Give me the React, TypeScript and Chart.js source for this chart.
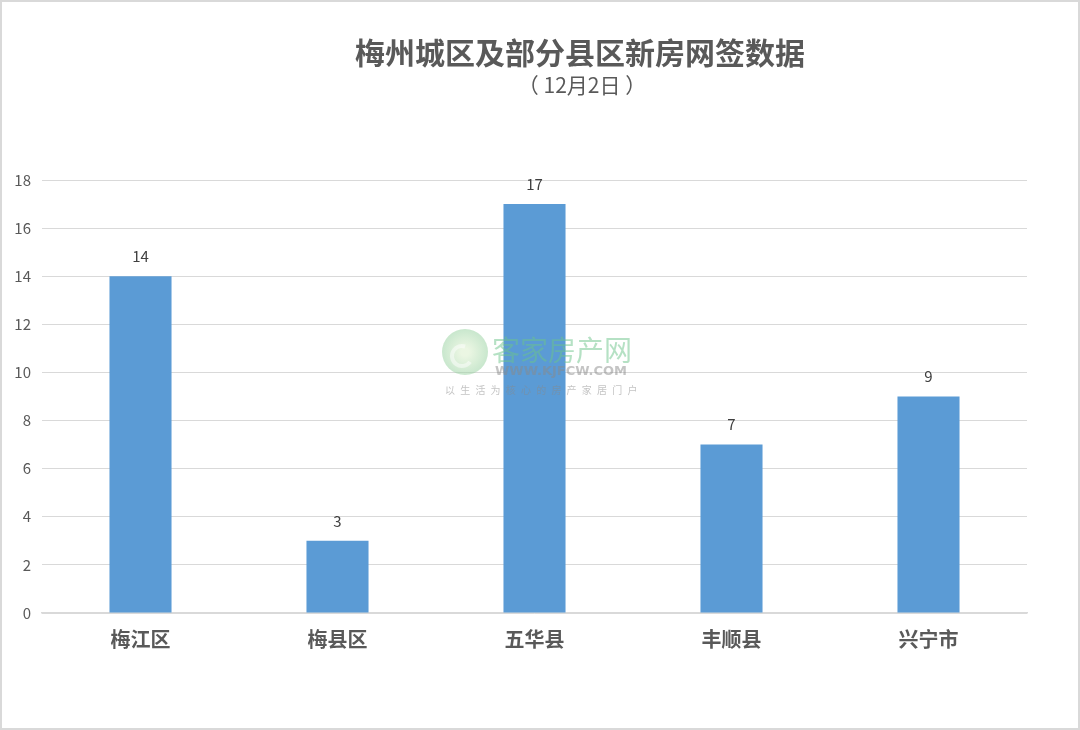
import React, { useEffect, useRef } from "react";
import { Chart, registerables } from "chart.js";

Chart.register(...registerables);

const titleText = "梅州城区及部分县区新房网签数据";
const subtitleText = "（ 12月2日 ）";
const categories = ["梅江区", "梅县区", "五华县", "丰顺县", "兴宁市"];
const values = [14, 3, 17, 7, 9];
const yMin = 0;
const yMax = 18;
const yStep = 2;

const CJK = '"Noto Sans CJK SC", "Microsoft YaHei", sans-serif';

const decorPlugin = {
  id: "decor",
  afterDraw(chart: any) {
    const ctx = chart.ctx as CanvasRenderingContext2D;
    ctx.save();
    // titles
    ctx.fillStyle = "#595959";
    ctx.textAlign = "center";
    ctx.textBaseline = "middle";
    ctx.font = `bold 30px ${CJK}`;
    ctx.fillText(titleText, 580, 53);
    ctx.font = `21px ${CJK}`;
    ctx.fillText(subtitleText, 582, 85);

    // data labels
    const meta = chart.getDatasetMeta(0);
    ctx.fillStyle = "#404040";
    ctx.font = `15px ${CJK}`;
    meta.data.forEach((bar: any, i: number) => {
      ctx.fillText(String(values[i]), bar.x, bar.y - 20);
    });

    // watermark
    ctx.globalAlpha = 0.5;
    const g = ctx.createRadialGradient(465, 352, 4, 465, 352, 24);
    g.addColorStop(0, "#d8efc8");
    g.addColorStop(1, "#8fce9a");
    ctx.fillStyle = g;
    ctx.beginPath();
    ctx.arc(465, 352, 23, 0, Math.PI * 2);
    ctx.fill();
    ctx.strokeStyle = "#ffffff";
    ctx.lineWidth = 4;
    ctx.beginPath();
    ctx.arc(462, 356, 10, Math.PI * 0.2, Math.PI * 1.6);
    ctx.stroke();
    ctx.fillStyle = "#6cc38a";
    ctx.font = `28px ${CJK}`;
    ctx.textAlign = "left";
    ctx.fillText("客家房产网", 492, 350);
    ctx.fillStyle = "#8a8a8a";
    ctx.font = `bold 13px "DejaVu Sans", sans-serif`;
    ctx.fillText("WWW.KJFCW.COM", 495, 372);
    ctx.font = `10px ${CJK}`;
    const slogan = "以生活为核心的房产家居门户";
    for (let i = 0; i < slogan.length; i++) {
      ctx.fillText(slogan[i], 445 + i * 15.2, 390);
    }
    ctx.globalAlpha = 1;

    // border
    ctx.strokeStyle = "#d9d9d9";
    ctx.lineWidth = 2;
    ctx.strokeRect(1, 1, 1078, 728);
    ctx.restore();
  },
};

export default function App() {
  const ref = useRef<HTMLCanvasElement | null>(null);
  useEffect(() => {
    document.body.style.margin = "0";
    if (!ref.current) return;
    const chart = new Chart(ref.current, {
      type: "bar",
      data: {
        labels: categories,
        datasets: [
          {
            data: values,
            backgroundColor: "#5B9BD5",
            barPercentage: 0.315,
            categoryPercentage: 1,
          },
        ],
      },
      options: {
        animation: false,
        responsive: false,
        maintainAspectRatio: false,
        layout: { padding: { top: 180, right: 53, left: 0, bottom: 0 } },
        plugins: {
          legend: { display: false },
          tooltip: { enabled: false },
          title: { display: false },
        },
        scales: {
          x: {
            grid: { display: false, drawTicks: false },
            border: { color: "#d9d9d9", width: 1.5 },
            ticks: {
              color: "#595959",
              font: { family: CJK, size: 20, weight: "bold" },
              padding: 14,
            },
            afterFit: (s: any) => {
              s.height = 117;
            },
          },
          y: {
            min: yMin,
            max: yMax,
            ticks: {
              stepSize: yStep,
              color: "#595959",
              font: { family: CJK, size: 15 },
              padding: 11,
            },
            grid: { color: "#d9d9d9", lineWidth: 1, drawTicks: false },
            border: { display: false },
            afterFit: (s: any) => {
              s.width = 42;
            },
          },
        },
      },
      plugins: [decorPlugin],
    });
    return () => chart.destroy();
  }, []);
  return (
    <div style={{ position: "absolute", left: 0, top: 0, width: 1080, height: 730, background: "#fff" }}>
      <canvas ref={ref} width={1080} height={730} style={{ width: 1080, height: 730 }} />
    </div>
  );
}
